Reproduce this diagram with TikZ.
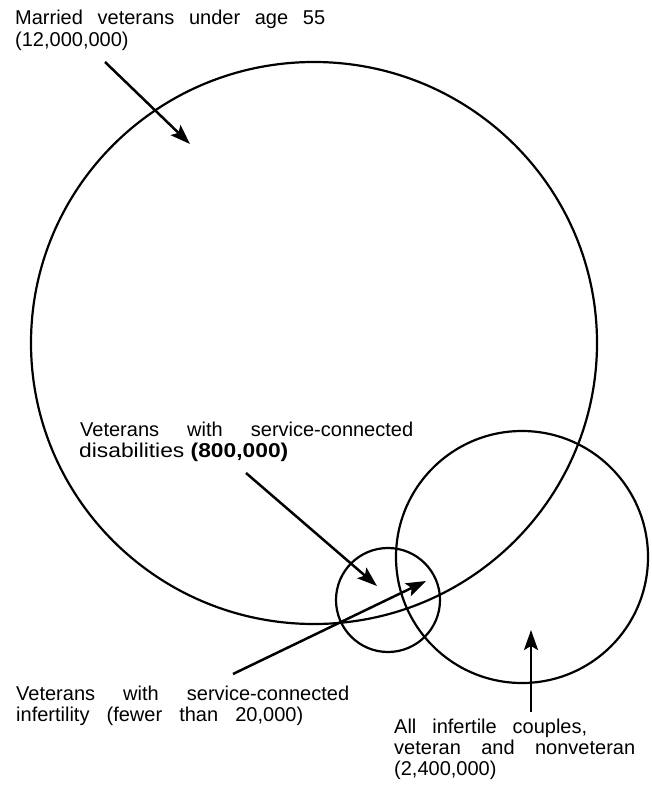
\documentclass[tikz,border=0pt]{standalone}
\usepackage{fontspec}
\usepackage{graphicx}
\setmainfont{Liberation Sans}
\usetikzlibrary{arrows.meta}
\begin{document}
\begin{tikzpicture}[x=1pt,y=-1pt,
  ring/.style={line width=2.2pt},
  pointer/.style={line width=2.5pt,-{Stealth[length=20pt,width=14pt,inset=4pt]}},
  lbl/.style={inner sep=0pt,anchor=base west,font=\fontsize{20}{22}\selectfont}]
\useasboundingbox[fill=white] (0,0) rectangle (651,786);
% circles
\draw[ring] (314,343) ellipse [x radius=283pt, y radius=281pt];
\draw[ring] (522,557) circle [radius=126pt];
\draw[ring] (388,600) circle [radius=52pt];
% labels
\node[lbl] (a1) at (15,25) {\makebox[310pt][s]{Married veterans under age 55}};
\node[lbl] (a2) at (15,47) {(12,000,000)};
\node[lbl] (b1) at (80,436) {\makebox[333pt][s]{Veterans with service-connected}};
\node[lbl] (b2) at (79,457) {\scalebox{1.14}[1]{disabilities \textbf{(800,000)}}};
\node[lbl] (c1) at (16,700) {\makebox[333pt][s]{Veterans with service-connected}};
\node[lbl] (c2) at (16,721) {\makebox[287pt][s]{infertility (fewer than 20,000)}};
\node[lbl] (d1) at (394,733) {\makebox[193pt][s]{All infertile couples,}};
\node[lbl] (d2) at (394,754) {\makebox[241pt][s]{veteran and nonveteran}};
\node[lbl] (d3) at (394,775) {(2,400,000)};
% arrow ends
\coordinate (p1s) at (105,62);  \coordinate (p1e) at (190,144);
\coordinate (p2s) at (246,473); \coordinate (p2e) at (377,586);
\coordinate (p3s) at (233,674); \coordinate (p3e) at (426,581);
\coordinate (p4s) at (531,712); \coordinate (p4e) at (531,630);
\draw[pointer] (p1s) -- (p1e);
\draw[pointer] (p2s) -- (p2e);
\draw[pointer] (p3s) -- (p3e);
\draw[pointer] (p4s) -- (p4e);
\end{tikzpicture}
\end{document}
